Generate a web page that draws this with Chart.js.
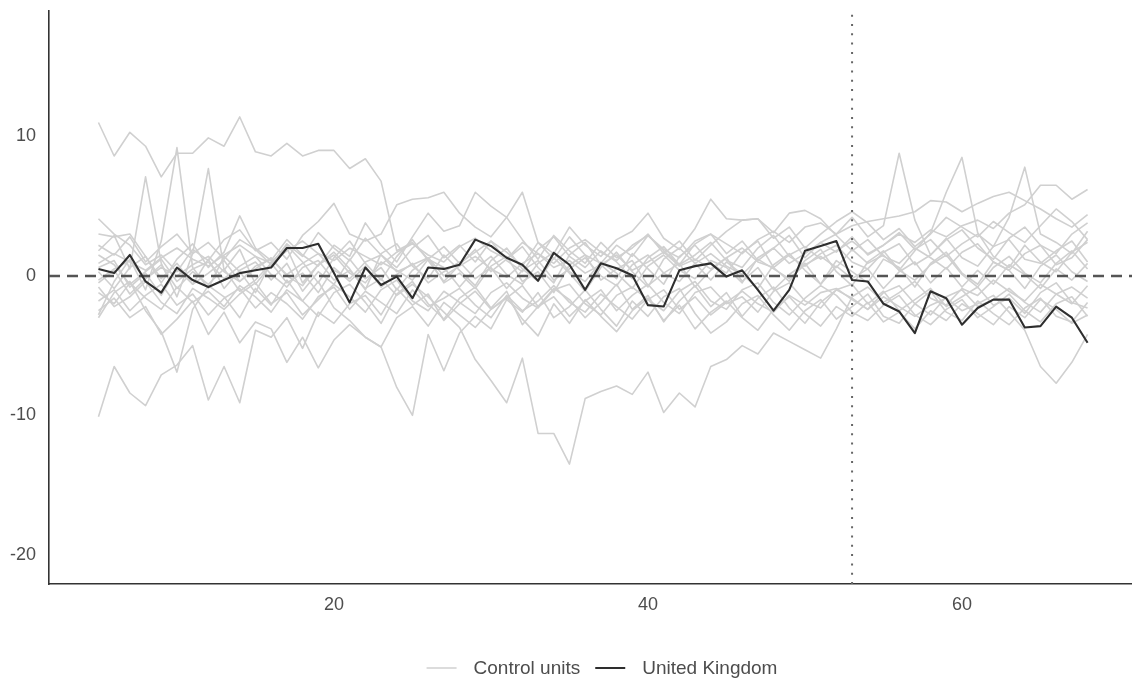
<!DOCTYPE html>
<html>
<head>
<meta charset="utf-8">
<script src="https://cdn.jsdelivr.net/npm/chart.js@4.4.1/dist/chart.umd.min.js"></script>
<style>
  html, body { margin: 0; padding: 0; background: #fff; }
</style>
</head>
<body>
<canvas id="chart" width="1132" height="681"></canvas>
<script>
// time periods 5..68
const periods = [];
for (let t = 5; t <= 68; t++) periods.push(t);

const treatmentPeriod = 53;
const xTickValues = [20, 40, 60];
const yTickValues = [-20, -10, 0, 10];

const unitedKingdom = [
  0.5, 0.2, 1.5, -0.4, -1.2, 0.6, -0.3, -0.8,
  -0.3, 0.2, 0.4, 0.6, 2.0, 2.0, 2.3, 0.2,
  -1.9, 0.6, -0.65, -0.05, -1.6, 0.6, 0.5, 0.8,
  2.6, 2.15, 1.3, 0.8, -0.35, 1.65, 0.8, -1.0,
  0.9, 0.55, 0.05, -2.1, -2.2, 0.4, 0.7, 0.9,
  -0.05, 0.4, -1.0, -2.5, -1.0, 1.8, 2.15, 2.5,
  -0.3, -0.4, -2.0, -2.55, -4.1, -1.1, -1.6, -3.5,
  -2.3, -1.7, -1.7, -3.7, -3.6, -2.2, -3.0, -4.8
];

const control1 = [
  11.0, 8.6, 10.3, 9.3, 7.1, 8.8, 8.8, 9.9,
  9.3, 11.4, 8.9, 8.6, 9.5, 8.6, 9.0, 9.0,
  7.7, 8.4, 6.8, 1.8, 2.4, 1.2, 2.1, 0.9,
  1.7, 2.5, 1.1, 0.3, 1.9, 2.8, 1.4, 0.6,
  1.8, 1.0, -0.2, 1.3, 2.1, 0.8, 1.5, 2.4,
  1.1, 0.6, 2.0, 2.9, 1.4, 0.7, 1.6, 2.2,
  1.0, 0.5, 1.7, 2.3, 0.8, 1.5, 2.7, 1.3,
  0.7, 2.1, 2.6, 1.2, 0.9, 1.8, 2.5, 1.0
];
const control2 = [
  -10.1, -6.5, -8.4, -9.3, -7.1, -6.4, -5.0, -8.9,
  -6.5, -9.1, -3.9, -4.4, -3.0, -5.2, -2.6, -3.4,
  -2.0, -1.4, -2.8, -0.9, -2.1, -1.3, -3.2, -2.0,
  -1.1, -2.4, -1.6, -0.7, -2.2, -1.5, -2.9, -1.8,
  -1.0, -2.5, -1.4, -0.6, -1.9, -2.7, -1.2, -0.8,
  -2.0, -1.5, -2.6, -1.1, -0.5, -1.8, -2.3, -1.0,
  -1.6, -2.4, -1.2, -0.7, -2.0, -2.8, -1.5, -1.0,
  -2.2, -1.7, -0.9, -1.9, -2.6, -1.3, -0.8, -1.6
];
const control3 = [
  1.5, 0.8, -0.6, 0.3, 1.2, -0.4, 0.5, 1.0,
  -0.2, 0.7, 1.4, 0.1, -0.8, 0.6, 1.1, -0.3,
  0.4, -0.9, -0.2, -1.4, -0.6, -1.5, -2.6, -3.7,
  -6.0, -7.5, -9.1, -5.9, -11.3, -11.3, -13.5, -8.8,
  -8.3, -7.9, -8.5, -6.9, -9.8, -8.4, -9.4, -6.5,
  -6.0, -5.0, -5.6, -4.1, -4.7, -5.3, -5.9, -3.8,
  -1.5, -0.8, -1.9, -1.2, -0.4, -1.6, -2.1, -0.9,
  -1.4, -0.3, -1.1, -1.8, -0.6, -1.3, -2.0, -0.7
];
const control4 = [
  -1.2, -2.0, -0.5, -1.6, -2.4, -0.8, -1.9, -1.1,
  -2.2, -0.7, -1.5, -2.6, -1.0, -1.8, -0.4, -2.3,
  -3.2, -4.4, -5.1, -8.0, -10.0, -4.2, -6.8, -4.1,
  -2.9, -3.8, -1.7, -2.6, -1.2, -3.0, -2.2, -1.0,
  -2.4, -3.6, -1.8, -2.9, -1.5, -0.9, -2.7, -4.1,
  -3.3, -2.0, -1.4, -2.8, -3.9, -2.5, -1.7, -3.1,
  -2.2, -1.3, -2.9, -3.4, -2.0, -1.1, -2.6, -3.2,
  -1.8, -2.7, -3.5, -2.3, -1.6, -2.9, -3.3, -1.9
];
const control5 = [
  0.3, -0.9, 0.6, 1.4, -0.2, 0.9, -0.6, 0.2,
  1.1, -0.4, 0.5, 1.3, 0.0, -0.7, 0.8, 1.5,
  0.2, -0.5, 1.0, 0.4, -0.3, 1.2, 0.6, -0.8,
  0.5, 1.4, 0.1, -0.6, 0.9, 1.7, 0.3, -0.4,
  1.0, 0.2, -0.9, 0.7, 1.5, 0.4, -0.2, 1.1,
  0.6, -0.5, 1.3, 2.0, 0.9, 1.6, 2.4, 3.0,
  4.2, 2.8, 3.6, 8.8, 4.0, 1.5, 2.6, 3.3,
  2.0, 1.2, 2.7, 3.5, 2.2, 1.6, 3.0, 3.8
];
const control6 = [
  -0.5, 0.4, -1.3, -0.2, 0.8, -0.9, 0.3, -0.6,
  0.5, -1.1, -0.3, 0.9, -0.5, 0.2, -1.2, 0.6,
  -0.4, 0.7, -0.8, 0.1, 0.9, -0.5, 0.3, 1.0,
  -0.2, 0.6, -0.9, 0.4, 1.1, -0.3, 0.5, 1.3,
  0.0, -0.7, 0.8, 1.5, 0.2, -0.4, 0.9, 1.6,
  0.7, 0.1, 1.2, 0.5, -0.2, 0.8, 1.4, 0.6,
  1.9, 0.9, 1.5, 0.4, 1.8, 3.1, 6.0, 8.5,
  3.1, 1.4, 0.6, 2.2, 1.0, 0.3, 1.7, 2.4
];
const control7 = [
  2.2, 1.5, 2.8, 1.0, 2.1, 3.0, 1.6, 2.4,
  1.2, 2.6, 1.9, 0.8, 2.3, 1.4, 3.1, 2.0,
  1.1, 2.7, 1.5, 0.6, 2.0, 2.9, 1.3, 2.2,
  1.0, 2.5, 1.7, 0.7, 2.4, 1.2, 2.8, 1.5,
  0.9, 2.2, 1.4, 2.9, 1.8, 0.8, 2.3, 3.0,
  1.6, 2.5, 1.1, 2.0, 2.9, 1.3, 2.4, 1.7,
  2.8, 1.5, 2.2, 3.1, 1.9, 2.6, 1.4, 2.3,
  3.0, 2.1, 4.2, 7.8, 3.0, 2.4, 1.6, 3.2
];
const control8 = [
  0.9, 1.6, 1.0, 0.4, 1.3, 2.0, 1.2, 0.7,
  1.5, 2.2, 1.4, 0.9, 1.8, 2.5, 1.6, 1.1,
  2.0, 1.4, 0.8, 1.7, 2.3, 1.5, 1.0, 2.1,
  2.7, 1.8, 1.2, 2.4, 1.6, 0.9, 2.0, 2.6,
  1.7, 1.1, 2.2, 2.9, 1.9, 1.3, 2.5, 3.0,
  2.3, 1.6, 2.6, 3.2, 2.4, 3.5, 3.8, 3.0,
  3.6, 3.9, 4.1, 4.3, 4.6, 5.4, 5.3, 4.6,
  5.2, 5.7, 6.0, 5.4, 4.8, 4.1, 3.5, 4.4
];
const control9 = [
  -0.3, 0.5, 1.1, -0.2, 0.6, 0.0, 0.8, 1.4,
  0.3, -0.4, 0.7, 1.2, 0.1, 0.9, 1.6, 0.4,
  -0.2, 1.0, 1.5, 0.3, 0.8, 1.3, 0.0, 0.7,
  1.4, 0.5, -0.1, 0.9, 1.6, 0.6, 1.1, 0.2,
  0.8, 1.5, 0.4, 1.0, 1.7, 0.7, 1.2, 0.5,
  1.3, 2.0, 1.0, 0.6, 1.5, 2.1, 1.2, 1.8,
  2.5, 1.6, 2.2, 3.0, 2.4, 3.3, 2.8, 3.6,
  4.0, 3.4, 4.5, 5.1, 6.5, 6.5, 5.5, 6.2
];
const control10 = [
  -1.8, -1.0, -2.5, -1.4, -0.6, -2.1, -1.3, -2.8,
  -1.6, -0.9, -2.3, -1.2, -2.0, -3.1, -1.5, -0.8,
  -2.4, -1.1, -1.9, -2.7, -1.0, -2.2, -1.6, -0.9,
  -2.1, -3.0, -1.4, -2.5, -1.8, -0.7, -1.9, -2.6,
  -1.3, -2.2, -3.1, -1.7, -1.0, -2.4, -1.5, -2.8,
  -1.9, -1.1, -2.0, -2.6, -1.4, -2.1, -1.2, -0.9,
  -1.7, -2.4, -1.5, -2.2, -2.9, -2.1, -1.6, -2.5,
  -2.0, -1.4, -2.6, -3.9, -6.5, -7.7, -6.2, -4.2
];
const control11 = [
  -2.8, -0.4, 1.2, -1.0, 2.5, 9.2, 0.6, -0.9,
  1.4, 0.3, -1.2, 1.0, 2.0, -0.5, 0.8, 1.7,
  0.5, -1.0, 1.6, 2.3, 0.7, -0.2, 1.5, 0.4,
  -0.7, 1.1, 2.0, 0.5, -0.4, 1.3, 0.2, -1.1,
  0.6, 1.7, 0.3, -0.8, 1.2, 2.0, 0.9, -0.3,
  1.0, 0.1, -0.9, 0.8, 1.6, 0.4, -0.6, 1.1,
  0.3, -0.5, 1.2, 0.6, -0.8, 0.9, 1.7, 0.2,
  -0.6, 1.0, 0.4, -0.9, 0.7, 1.5, 0.3, -0.4
];
const control12 = [
  1.8, 2.9, 0.5, 7.1, 0.9, -1.5, 1.6, 7.7,
  0.4, 1.9, -0.6, 0.8, 2.2, 1.0, -0.5, 1.3,
  2.5, 0.9, -0.3, 1.4, 2.6, 1.1, -0.4, 0.8,
  1.9, 0.3, 1.2, 2.1, 0.6, -0.5, 1.5, 2.4,
  0.8, -0.2, 1.6, 0.5, -0.6, 1.4, 2.2, 0.9,
  0.2, 1.7, 2.5, 0.6, -0.4, 1.1, 1.9, 0.3,
  -0.7, 1.0, 1.8, 0.4, -0.3, 0.8, 1.5, 0.1,
  -0.8, 0.6, 1.4, 0.2, -0.5, 0.9, 1.8, 0.5
];
const control13 = [
  4.1, 3.0, 2.2, 0.8, 1.5, 0.3, 1.9, 1.1,
  2.6, 3.3, 1.8, 2.4, 1.2, 2.9, 3.9, 5.2,
  3.0, 2.5, 3.0, 5.1, 5.5, 5.6, 6.0, 4.5,
  3.5, 2.8, 4.2, 6.0, 2.4, 1.6, 3.5, 2.2,
  1.4, 2.6, 3.2, 4.5, 2.7, 1.9, 3.4, 5.5,
  4.1, 4.0, 4.1, 3.1, 4.5, 4.7, 4.1, 2.9,
  1.8, 2.6, 1.4, 0.9, 2.0, 1.3, 0.5, 1.7,
  2.3, 1.0, 0.4, 1.6, 2.2, 0.8, 1.3, 2.6
];
const control14 = [
  3.0, 2.8, 3.0, 1.4, -0.5, 1.2, 2.3, 0.6,
  1.7, 4.3, 2.0, 1.1, 2.6, 1.5, 0.7, 2.2,
  1.4, 3.8, 2.2, 1.0, 2.8, 4.5, 3.2, 3.6,
  6.0, 5.0, 4.2, 2.6, 1.2, 2.9, 1.8, 0.9,
  2.4, 1.3, 2.0, 3.0, 1.6, 2.5, 1.1, 2.2,
  3.2, 4.0, 4.1, 2.7, 3.5, 2.0, 3.0, 3.9,
  4.6, 3.8, 2.6, 3.4, 2.1, 3.0, 4.2, 3.5,
  2.8, 3.9, 3.1, 2.4, 3.6, 4.8, 3.9, 2.6
];
const control15 = [
  -2.5, -1.6, -3.0, -2.2, -4.2, -3.1, -1.8, -4.2,
  -2.6, -4.8, -3.3, -3.8, -6.2, -4.4, -6.6, -4.6,
  -3.5, -4.4, -5.1, -3.0, -2.2, -3.6, -1.9, -2.8,
  -3.7, -2.4, -1.5, -3.1, -4.3, -2.0, -3.4, -1.7,
  -2.9, -4.0, -2.5, -1.6, -3.2, -2.1, -3.8, -2.6,
  -1.8, -3.0, -3.9, -2.4, -1.5, -2.7, -3.6, -2.2,
  -2.9, -1.9, -3.3, -2.6, -3.8, -2.5, -3.2, -2.0,
  -2.7, -3.5, -2.2, -3.0, -1.7, -2.4, -3.4, -2.8
];
const control16 = [
  0.6, 1.1, -0.8, 0.2, -1.4, 0.5, -0.6, 1.2,
  -0.9, 0.4, 1.0, -0.3, 0.9, -1.1, 0.3, -0.6,
  1.2, -0.2, 0.6, -1.0, 0.4, 1.3, -0.5, 0.2,
  -0.9, 0.7, 1.4, -0.4, 0.3, -1.2, 0.8, 1.5,
  -0.3, 0.5, 1.1, -0.7, 0.2, 0.9, -0.8, 0.4,
  1.3, -0.4, 0.6, -1.0, 0.1, 0.9, -0.6, 0.7,
  -0.2, 0.5, -0.9, 0.3, 1.0, -0.5, 0.6, -0.8,
  0.4, -0.6, 0.8, 0.1, -0.9, 0.5, -0.3, 0.9
];
const control17 = [
  -0.8, -2.2, -1.5, -0.4, -1.9, -2.7, -0.9, -1.6,
  -2.4, -1.3, -0.5, -2.0, -1.2, -2.8, -1.7, -0.6,
  -1.5, -2.6, -1.0, -0.3, -1.8, -2.5, -1.1, -1.9,
  -2.7, -1.2, -0.5, -1.6, -2.3, -1.0, -0.6, -2.0,
  -2.8, -1.4, -0.8, -1.7, -2.5, -1.1, -0.4, -1.8,
  -2.4, -1.0, -0.5, -1.9, -2.8, -1.6, -0.7, -1.4,
  -2.6, -3.2, -2.1, -1.4, -2.8, -3.5, -2.4, -1.7,
  -3.0, -2.2, -1.3, -2.5, -3.3, -2.0, -1.5, -2.9
];
const control18 = [
  -3.0, -1.2, -0.4, -2.5, -4.0, -6.9, -2.4, -0.7,
  -1.5, -3.0, -0.9, -2.1, -0.3, -1.8, -2.9, -1.2,
  -0.6, -1.9, -3.4, -1.3, -0.4, -2.0, -3.1, -1.6,
  -0.8, -2.3, -1.1, -3.5, -2.2, -0.9, -1.7, -3.0,
  -1.9, -0.6, -2.4, -1.4, -3.3, -1.8, -0.7, -2.2,
  -1.2, -2.9, -1.6, -0.8, -2.3, -3.4, -1.9, -1.0,
  -0.6, -2.0, -1.1, -2.5, -1.7, -0.9, -2.2, -1.5,
  -0.8, -2.1, -1.6, -2.7, -1.2, -0.5, -1.9, -2.3
];

const controlUnits = [
  control1, control2, control3, control4, control5, control6,
  control7, control8, control9, control10, control11, control12,
  control13, control14, control15, control16, control17, control18
];

const X_MIN = 1.85, X_MAX = 70.83;
const Y_MIN = -22.1, Y_MAX = 19.0;

const GREY = '#d0d0d0',
      DARK = '#2e2e2e',
      TEXT = '#4d4d4d',
      FONT = '"Liberation Sans", Arial, Helvetica, sans-serif';

const legendItems = [
  { label: 'Control units', color: GREY, width: 1.5 },
  { label: 'United Kingdom', color: DARK, width: 2 }
];

function toPoints(values) {
  return values.map((y, i) => ({ x: periods[i], y }));
}

const datasets = controlUnits.map(values => ({
  label: 'Control units',
  data: toPoints(values),
  borderColor: GREY,
  borderWidth: 1.6,
  order: 3
}));

datasets.push({
  label: 'zero',
  data: [{ x: X_MIN, y: 0 }, { x: X_MAX, y: 0 }],
  borderColor: '#555',
  borderWidth: 2.5,
  borderDash: [11, 7],
  order: 1
});

datasets.push({
  label: 'treatment',
  data: [{ x: treatmentPeriod, y: Y_MIN }, { x: treatmentPeriod, y: Y_MAX }],
  borderColor: '#666',
  borderWidth: 2,
  borderDash: [2, 7.3],
  order: 2
});

datasets.push({
  label: 'United Kingdom',
  data: toPoints(unitedKingdom),
  borderColor: DARK,
  borderWidth: 2.1,
  order: 0
});

// no extra room around the panel for edge labels
function noEdgePadding(axis) {
  axis.paddingTop = 0;
  axis.paddingBottom = 0;
  axis.paddingLeft = 0;
  axis.paddingRight = 0;
}

// legend drawn under the panel
const bottomKey = {
  id: 'bottomKey',
  afterDraw(chart) {
    const ctx = chart.ctx;
    ctx.save();
    ctx.font = '19px ' + FONT;
    ctx.textBaseline = 'middle';
    const keyLen = 30, gapText = 17, gapItem = 15;
    let total = 0;
    legendItems.forEach((item, i) => {
      total += keyLen + gapText + ctx.measureText(item.label).width;
      if (i < legendItems.length - 1) total += gapItem;
    });
    let x = 602 - total / 2;
    const y = 668;
    legendItems.forEach(item => {
      ctx.strokeStyle = item.color;
      ctx.lineWidth = item.width;
      ctx.beginPath();
      ctx.moveTo(x, y);
      ctx.lineTo(x + keyLen, y);
      ctx.stroke();
      x += keyLen + gapText;
      ctx.fillStyle = TEXT;
      ctx.fillText(item.label, x, y + 1);
      x += ctx.measureText(item.label).width + gapItem;
    });
    ctx.restore();
  }
};

const ctx = document.getElementById('chart').getContext('2d');
new Chart(ctx, {
  type: 'line',
  data: { datasets },
  plugins: [bottomKey],
  options: {
    responsive: false,
    animation: false,
    layout: { padding: { top: 11, right: 0, bottom: 57, left: 0 } },
    plugins: {
      legend: { display: false },
      tooltip: { enabled: false }
    },
    elements: {
      point: { radius: 0 },
      line: { tension: 0, borderCapStyle: 'butt', borderJoinStyle: 'round' }
    },
    scales: {
      x: {
        type: 'linear',
        min: X_MIN,
        max: X_MAX,
        grid: { display: false, drawTicks: false },
        border: { display: true, color: '#333', width: 1.6 },
        afterBuildTicks: axis => { axis.ticks = xTickValues.map(v => ({ value: v })); },
        afterFit: axis => { axis.height = 40; noEdgePadding(axis); },
        ticks: {
          padding: 10,
          maxRotation: 0,
          color: TEXT,
          font: { family: FONT, size: 18 },
          callback: v => String(v)
        }
      },
      y: {
        type: 'linear',
        min: Y_MIN,
        max: Y_MAX,
        grid: { display: false, drawTicks: false },
        border: { display: true, color: '#333', width: 1.6 },
        afterBuildTicks: axis => { axis.ticks = yTickValues.map(v => ({ value: v })); },
        afterFit: axis => { axis.width = 49; noEdgePadding(axis); },
        ticks: {
          padding: 13,
          color: TEXT,
          font: { family: FONT, size: 18 },
          callback: v => String(v)
        }
      }
    }
  }
});
</script>
</body>
</html>
